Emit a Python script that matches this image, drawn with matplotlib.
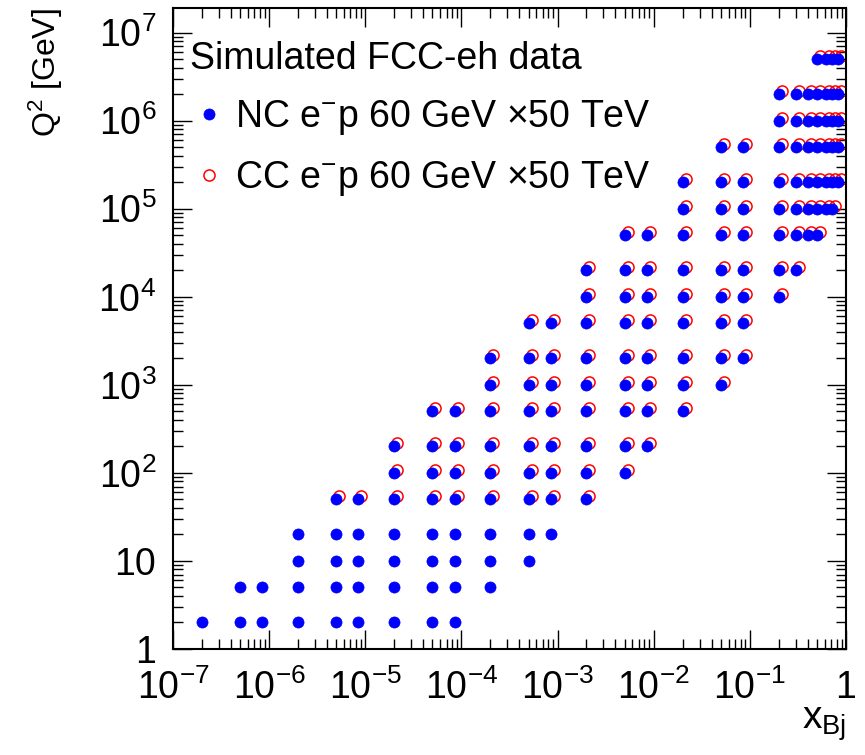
import numpy as np
import matplotlib
matplotlib.use('Agg')
import matplotlib.pyplot as plt
from matplotlib import transforms
from matplotlib.ticker import FixedLocator, FixedFormatter, LogLocator, NullFormatter

plt.rcParams['font.family'] = ['Liberation Sans', 'DejaVu Sans']
plt.rcParams['mathtext.fontset'] = 'custom'
plt.rcParams['mathtext.rm'] = 'Liberation Sans'
plt.rcParams['mathtext.it'] = 'Liberation Sans:italic'
plt.rcParams['mathtext.bf'] = 'Liberation Sans:bold'

# Q^2 grid rows and the x_Bj values populated in each row
q2_rows = [2, 5, 10, 20, 50, 100, 200, 500, 1e3, 2e3, 5e3,
           1e4, 2e4, 5e4, 1e5, 2e5, 5e5, 1e6, 2e6, 5e6]
x_rows = [
    [2e-7, 5e-7, 8.5e-7, 2e-6, 5e-6, 8.5e-6, 2e-5, 5e-5, 8.5e-5],
    [5e-7, 8.5e-7, 2e-6, 5e-6, 8.5e-6, 2e-5, 5e-5, 8.5e-5, 2e-4],
    [2e-6, 5e-6, 8.5e-6, 2e-5, 5e-5, 8.5e-5, 2e-4, 5e-4],
    [2e-6, 5e-6, 8.5e-6, 2e-5, 5e-5, 8.5e-5, 2e-4, 5e-4, 8.5e-4],
    [5e-6, 8.5e-6, 2e-5, 5e-5, 8.5e-5, 2e-4, 5e-4, 8.5e-4, 2e-3],
    [2e-5, 5e-5, 8.5e-5, 2e-4, 5e-4, 8.5e-4, 2e-3, 5e-3],
    [2e-5, 5e-5, 8.5e-5, 2e-4, 5e-4, 8.5e-4, 2e-3, 5e-3, 8.5e-3],
    [5e-5, 8.5e-5, 2e-4, 5e-4, 8.5e-4, 2e-3, 5e-3, 8.5e-3, 2e-2],
    [2e-4, 5e-4, 8.5e-4, 2e-3, 5e-3, 8.5e-3, 2e-2, 5e-2],
    [2e-4, 5e-4, 8.5e-4, 2e-3, 5e-3, 8.5e-3, 2e-2, 5e-2, 8.5e-2],
    [5e-4, 8.5e-4, 2e-3, 5e-3, 8.5e-3, 2e-2, 5e-2, 8.5e-2],
    [2e-3, 5e-3, 8.5e-3, 2e-2, 5e-2, 8.5e-2, 0.2],
    [2e-3, 5e-3, 8.5e-3, 2e-2, 5e-2, 8.5e-2, 0.2, 0.3],
    [5e-3, 8.5e-3, 2e-2, 5e-2, 8.5e-2, 0.2, 0.3, 0.4, 0.5],
    [2e-2, 5e-2, 8.5e-2, 0.2, 0.3, 0.4, 0.5, 0.62, 0.72],
    [2e-2, 5e-2, 8.5e-2, 0.2, 0.3, 0.4, 0.5, 0.62, 0.72, 0.82],
    [5e-2, 8.5e-2, 0.2, 0.3, 0.4, 0.5, 0.62, 0.72, 0.82],
    [0.2, 0.3, 0.4, 0.5, 0.62, 0.72, 0.82],
    [0.2, 0.3, 0.4, 0.5, 0.62, 0.72, 0.82],
    [0.5, 0.62, 0.72, 0.82],
]
cc_min_q2 = 50  # charged-current points only exist from Q^2 = 50 upward

nc_x = [x for q2, xs in zip(q2_rows, x_rows) for x in xs]
nc_q2 = [q2 for q2, xs in zip(q2_rows, x_rows) for x in xs]
cc_x = [x for q2, xs in zip(q2_rows, x_rows) if q2 >= cc_min_q2 for x in xs]
cc_q2 = [q2 for q2, xs in zip(q2_rows, x_rows) if q2 >= cc_min_q2 for x in xs]

xtick_vals = [1e-7, 1e-6, 1e-5, 1e-4, 1e-3, 1e-2, 1e-1, 1]
xtick_labels = [r'$10^{-7}$', r'$10^{-6}$', r'$10^{-5}$', r'$10^{-4}$',
                r'$10^{-3}$', r'$10^{-2}$', r'$10^{-1}$', '1']
ytick_vals = [1, 10, 1e2, 1e3, 1e4, 1e5, 1e6, 1e7]
ytick_labels = ['1', '10', r'$10^{2}$', r'$10^{3}$', r'$10^{4}$',
                r'$10^{5}$', r'$10^{6}$', r'$10^{7}$']

fig = plt.figure(figsize=(8.65, 7.55), dpi=100)
ax = fig.add_axes([0.2, 0.1404, 0.778, 0.849])

cc_trans = transforms.offset_copy(ax.transData, fig=fig, x=3, y=3, units='dots')
ax.plot(cc_x, cc_q2, ls='none', marker='o', ms=8, mfc='none', mec='#ff0000',
        mew=1.1, transform=cc_trans, zorder=2, label=r'CC e$^{-}$p 60 GeV $\times$50 TeV')
ax.plot(nc_x, nc_q2, ls='none', marker='o', ms=8, mfc='#0000ff', mec='#0000ff',
        mew=0.5, zorder=3, label=r'NC e$^{-}$p 60 GeV $\times$50 TeV')

ax.set_xscale('log')
ax.set_yscale('log')
ax.set_xlim(1e-7, 1)
ax.set_ylim(1, 1.9e7)

ax.xaxis.set_major_locator(FixedLocator(xtick_vals))
ax.xaxis.set_major_formatter(FixedFormatter(xtick_labels))
ax.yaxis.set_major_locator(FixedLocator(ytick_vals))
ax.yaxis.set_major_formatter(FixedFormatter(ytick_labels))
for axis in (ax.xaxis, ax.yaxis):
    axis.set_minor_locator(LogLocator(base=10, subs=np.arange(2, 10), numticks=20))
    axis.set_minor_formatter(NullFormatter())

ax.tick_params(which='both', direction='in', top=True, right=True, width=1.0, labelsize=27)
ax.tick_params(which='major', length=14)
ax.tick_params(which='minor', length=7)
ax.tick_params(axis='x', pad=15)
ax.tick_params(axis='y', pad=12)
for s in ax.spines.values():
    s.set_linewidth(1.5)

ax.set_ylabel(r'Q$^{2}$ [GeV]', fontsize=23, loc='top')
ax.yaxis.set_label_coords(-0.16, 1.0)
ax.set_xlabel(r'x$_{\rm Bj}$', fontsize=28, loc='right')
ax.xaxis.set_label_coords(1.0, -0.088)

handles, labels = ax.get_legend_handles_labels()
leg = ax.legend(handles[::-1], labels[::-1], title='Simulated FCC-eh data',
                loc='upper left', bbox_to_anchor=(0.0194, 0.955), frameon=False,
                fontsize=27, title_fontsize=27, alignment='left',
                handlelength=1.0, handletextpad=0.2, labelspacing=0.58,
                borderpad=0.1, borderaxespad=0.0)

fig.savefig('out.png', dpi=100)
